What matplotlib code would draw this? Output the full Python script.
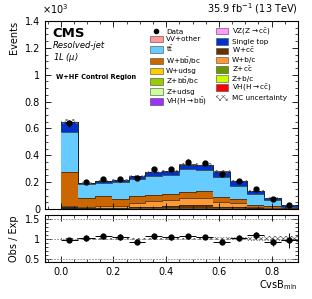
import numpy as np
import matplotlib
matplotlib.use("Agg")
import matplotlib.pyplot as plt
from matplotlib.patches import Patch
from matplotlib.lines import Line2D
from matplotlib.ticker import AutoMinorLocator, FormatStrFormatter

plt.rcParams["hatch.linewidth"] = 0.45

# binning of CvsB_min
edges = np.linspace(0, 0.9, 15)

# data (x10^3 events)
data = [0.637, 0.200, 0.225, 0.225, 0.228, 0.295, 0.295, 0.352, 0.342, 0.260, 0.210, 0.149, 0.077, 0.027]

# MC backgrounds (x10^3 events), stacked bottom -> top
vh_cc = [0.0005, 0.0003, 0.0003, 0.0003, 0.0003, 0.0003, 0.0003, 0.0003, 0.0003, 0.0003, 0.0002, 0.0002, 0.0001, 0.0001]
vh_bb = [0.0010, 0.0005, 0.0004, 0.0003, 0.0003, 0.0002, 0.0002, 0.0002, 0.0001, 0.0001, 0.0001, 0.0001, 0.0000, 0.0000]
z_udsg = [0.0005, 0.0005, 0.0006, 0.0006, 0.0007, 0.0008, 0.0008, 0.0009, 0.0009, 0.0008, 0.0006, 0.0004, 0.0002, 0.0001]
z_bc = [0.0008, 0.0004, 0.0004, 0.0004, 0.0005, 0.0005, 0.0005, 0.0005, 0.0005, 0.0004, 0.0003, 0.0002, 0.0001, 0.0000]
z_bb = [0.0020, 0.0005, 0.0005, 0.0004, 0.0004, 0.0004, 0.0004, 0.0003, 0.0003, 0.0002, 0.0002, 0.0001, 0.0001, 0.0000]
z_cc = [0.0005, 0.0004, 0.0005, 0.0006, 0.0008, 0.0010, 0.0012, 0.0015, 0.0015, 0.0010, 0.0008, 0.0004, 0.0002, 0.0001]
w_udsg = [0.0010, 0.0010, 0.0015, 0.0020, 0.0030, 0.0040, 0.0050, 0.0060, 0.0060, 0.0050, 0.0040, 0.0020, 0.0010, 0.0005]
w_cc = [0.005, 0.003, 0.004, 0.005, 0.008, 0.010, 0.012, 0.022, 0.022, 0.010, 0.008, 0.004, 0.002, 0.001]
w_bc = [0.012, 0.010, 0.013, 0.016, 0.032, 0.040, 0.048, 0.050, 0.050, 0.038, 0.029, 0.008, 0.006, 0.001]
w_bb = [0.253, 0.065, 0.072, 0.050, 0.054, 0.049, 0.044, 0.044, 0.054, 0.036, 0.030, 0.015, 0.010, 0.002]
ttbar = [0.297, 0.101, 0.101, 0.122, 0.122, 0.139, 0.143, 0.172, 0.154, 0.149, 0.099, 0.083, 0.048, 0.012]
single_top = [0.075, 0.011, 0.017, 0.018, 0.022, 0.032, 0.028, 0.033, 0.038, 0.038, 0.033, 0.023, 0.015, 0.011]
vz_cc = [0.0005, 0.0002, 0.0002, 0.0002, 0.0002, 0.0002, 0.0002, 0.0002, 0.0002, 0.0002, 0.0002, 0.0001, 0.0001, 0.0000]
vv_other = [0.0010, 0.0005, 0.0005, 0.0005, 0.0006, 0.0006, 0.0006, 0.0007, 0.0007, 0.0006, 0.0005, 0.0003, 0.0002, 0.0001]

# relative MC uncertainty per bin
mc_unc = [0.03, 0.03, 0.03, 0.03, 0.03, 0.03, 0.03, 0.03, 0.035, 0.04, 0.04, 0.05, 0.06, 0.07]

stack = [
    (vh_cc, "#ff0000"), (vh_bb, "#9933ff"), (z_udsg, "#ccff99"), (z_bc, "#ccff00"),
    (z_bb, "#99cc00"), (z_cc, "#669900"), (w_udsg, "#ffcc00"), (w_cc, "#663300"),
    (w_bc, "#ff9933"), (w_bb, "#cc6600"), (ttbar, "#66ccff"), (single_top, "#0033cc"),
    (vz_cc, "#ff99ff"), (vv_other, "#ff9999"),
]

fig = plt.figure(figsize=(3.12, 2.99), dpi=100)
ax = fig.add_axes([0.144, 0.301, 0.811, 0.629])
rax = fig.add_axes([0.144, 0.124, 0.811, 0.157])

centers = 0.5 * (edges[:-1] + edges[1:])
half = 0.5 * (edges[1:] - edges[:-1])

bottom = np.zeros(len(data))
for vals, col in stack:
    vals = np.array(vals)
    ax.stairs(bottom + vals, edges, baseline=bottom, fill=True, color=col, lw=0)
    ax.stairs(bottom + vals, edges, baseline=None, color="#222222", lw=0.5)
    bottom = bottom + vals
total = bottom

# MC uncertainty band
unc = total * np.array(mc_unc)
ax.stairs(total + unc, edges, baseline=total - unc, fill=True, facecolor="none",
          edgecolor="#666666", hatch="xxxxx", lw=0)

data = np.array(data)
derr = np.sqrt(data * 1000) / 1000
ax.errorbar(centers, data, yerr=derr, fmt="o", color="black", ms=3.5, lw=0.7,
            capsize=0)

ax.set_xlim(-0.06, 0.9)
ax.set_ylim(0, 1.4)
ax.set_xticklabels([])
ax.yaxis.set_major_formatter(FormatStrFormatter("%g"))

# ratio
ratio = data / total
rerr = derr / total
rel = np.array(mc_unc)
rax.stairs(1 + rel, edges, baseline=1 - rel, fill=True, facecolor="none",
           edgecolor="#555555", hatch="xxxxxx", lw=0)
for yv in [0.5, 1.0, 1.5]:
    rax.axhline(yv, color="#888888", ls=(0, (2, 1.5)), lw=0.6)
rax.errorbar(centers, ratio, yerr=rerr, xerr=half, fmt="o", color="black", ms=3.5,
             lw=0.7, capsize=0)
rax.set_xlim(-0.06, 0.9)
rax.set_ylim(0.42, 1.6)
rax.set_yticks([0.5, 1, 1.5])
rax.yaxis.set_major_formatter(FormatStrFormatter("%g"))

for a in (ax, rax):
    a.tick_params(which="both", direction="in", top=True, right=True, labelsize=7)
    a.tick_params(which="major", length=4, width=0.6)
    a.tick_params(which="minor", length=2, width=0.5)
    a.xaxis.set_minor_locator(AutoMinorLocator(4))
    for s in a.spines.values():
        s.set_linewidth(0.8)
ax.yaxis.set_minor_locator(AutoMinorLocator(4))
rax.yaxis.set_minor_locator(AutoMinorLocator(5))

ax.set_ylabel("Events", fontsize=7, loc="top")
rax.set_ylabel("Obs / Exp", fontsize=7)
rax.set_xlabel("CvsB$_{\\mathrm{min}}$", fontsize=7, loc="right", labelpad=1)
fig.align_ylabels([ax, rax])

fig.text(0.135, 0.945, "$\\times10^{3}$", fontsize=7, ha="left", va="bottom")
fig.text(0.955, 0.945, "35.9 fb$^{-1}$ (13 TeV)", fontsize=7, ha="right", va="bottom")

ax.text(0.03, 0.935, "CMS", transform=ax.transAxes, fontsize=9.5, weight="bold", va="center")
ax.text(0.03, 0.872, "Resolved-jet", transform=ax.transAxes, fontsize=6, style="italic", va="center")
ax.text(0.03, 0.805, "1L ($\\mu$)", transform=ax.transAxes, fontsize=6, style="italic", va="center")
ax.text(0.045, 0.70, "W+HF Control Region", transform=ax.transAxes, fontsize=4.8, weight="bold", va="center")

labels_left = ["Data", "VV+other", "t$\\bar{\\mathrm{t}}$", "W+b$\\bar{\\mathrm{b}}$/bc", "W+udsg",
               "Z+b$\\bar{\\mathrm{b}}$/bc", "Z+udsg", "VH(H$\\rightarrow$b$\\bar{\\mathrm{b}}$)"]
colors_left = [None, "#ff9999", "#66ccff", "#cc6600", "#ffcc00", "#99cc00", "#ccff99", "#9933ff"]
labels_right = ["VZ(Z$\\rightarrow$c$\\bar{\\mathrm{c}}$)", "Single top", "W+c$\\bar{\\mathrm{c}}$", "W+b/c",
                "Z+c$\\bar{\\mathrm{c}}$", "Z+b/c", "VH(H$\\rightarrow$c$\\bar{\\mathrm{c}}$)", "MC uncertainty"]
colors_right = ["#ff99ff", "#0033cc", "#663300", "#ff9933", "#669900", "#ccff00", "#ff0000", None]

handles = [Line2D([], [], marker="o", color="black", ls="none", ms=3)]
for c in colors_left[1:]:
    handles.append(Patch(facecolor=c, edgecolor="#444444", lw=0.4))
for c in colors_right[:-1]:
    handles.append(Patch(facecolor=c, edgecolor="#444444", lw=0.4))
handles.append(Patch(facecolor="none", edgecolor="#666666", hatch="xxxxx", lw=0))

ax.legend(handles, labels_left + labels_right, ncol=2, loc="upper left",
          bbox_to_anchor=(0.405, 0.985), frameon=False, fontsize=5.2,
          handlelength=1.7, handleheight=1.0, handletextpad=0.5,
          columnspacing=1.2, labelspacing=0.16, borderaxespad=0)

fig.savefig("out.png", dpi=100)
